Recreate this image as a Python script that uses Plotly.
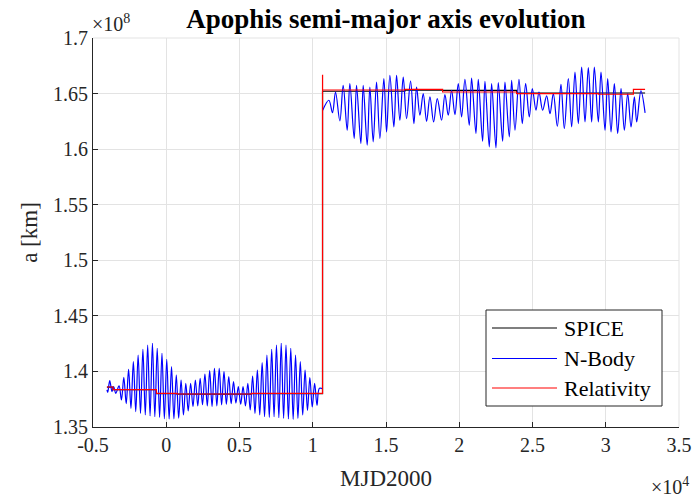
import plotly.graph_objects as go

# ---------------- data (time in MJD2000 days, a in 1e8 km) ----------------
spice_t = [-4050, -3634, -670, 737, 5817, 10668, 16290, 18864, 23918, 32685]
spice_a = [1.3858, 1.3836, 1.3801, 1.3796, 1.3801, 1.6521, 1.6530, 1.6529, 1.6505, 1.6505]

rel_t = [-4050, -3634, -670, 737, 5817, 10668, 10672, 16290, 18864, 23918, 29497, 31888, 32685]
rel_a = [1.3860, 1.3836, 1.3802, 1.3797, 1.3802, 1.6665, 1.6532, 1.6538, 1.6514, 1.6500, 1.6494, 1.6538, 1.6538]

nbody_pre_t = [-4050, -3995, -3858, -3700, -3585, -3448,
               -3222, -3059, -2896, -2733, -2571, -2408, -2245, -2082, -1920, -1757,
               -1594, -1431, -1268, -1105, -943, -780, -617, -454, -292, -129,
               34, 197, 360, 523, 685, 848, 1011, 1174, 1336, 1499,
               1662, 1825, 1988, 2151, 2313, 2476, 2639, 2802, 2964, 3127,
               3290, 3453, 3616, 3779, 3941, 4104, 4267, 4430, 4592, 4755,
               4918, 5081, 5244, 5407, 5569, 5732, 5895, 6058, 6220, 6383,
               6546, 6709, 6872, 7035, 7197, 7360, 7523, 7686, 7848, 8011,
               8174, 8337, 8500, 8663, 8825, 8988, 9151, 9314, 9476, 9639,
               9802, 9965, 10128, 10291, 10453, 10668]
nbody_pre_a = [1.3833, 1.3812, 1.3917, 1.3818, 1.3863, 1.3803,
               1.3870, 1.3743, 1.3947, 1.3710, 1.4019, 1.3668, 1.4088, 1.3638, 1.4148, 1.3623,
               1.4199, 1.3608, 1.4238, 1.3600, 1.4253, 1.3593, 1.4208, 1.3587, 1.4163, 1.3574,
               1.4109, 1.3572, 1.4043, 1.3574, 1.3968, 1.3580, 1.3923, 1.3608, 1.3893, 1.3644,
               1.3893, 1.3683, 1.3923, 1.3689, 1.3938, 1.3700, 1.3977, 1.3690, 1.4007, 1.3685,
               1.4028, 1.3690, 1.4028, 1.3700, 1.3998, 1.3705, 1.3953, 1.3710, 1.3908, 1.3715,
               1.3863, 1.3705, 1.3863, 1.3689, 1.3893, 1.3653, 1.3959, 1.3623, 1.4013, 1.3608,
               1.4079, 1.3593, 1.4148, 1.3587, 1.4199, 1.3593, 1.4238, 1.3584, 1.4253, 1.3578,
               1.4238, 1.3572, 1.4208, 1.3569, 1.4148, 1.3578, 1.4088, 1.3608, 1.4013, 1.3650,
               1.3944, 1.3680, 1.3893, 1.3695, 1.3848, 1.3845]

nbody_post_t = [10680, 11098, 11349, 11554, 11850, 12077, 12351, 12533, 12829, 12988,
                13284, 13444, 13717, 13899, 14127, 14354, 14582, 14855, 15038, 15265,
                15538, 15721, 15948, 16176, 16404, 16677, 16905, 17087, 17315, 17542,
                17770, 18000, 18250, 18500, 18794, 19022, 19249, 19477, 19705, 19932,
                20160, 20388, 20684, 20843, 21139, 21299, 21594, 21754, 22050, 22209,
                22505, 22665, 22961, 23120, 23416, 23576, 23803, 24076, 24304, 24532,
                24782, 24987, 25238, 25443, 25693, 25966, 26194, 26422, 26695, 26944,
                27172, 27445, 27673, 27900, 28128, 28356, 28584, 28811, 29039, 29221,
                29494, 29676, 29950, 30132, 30360, 30587, 30815, 31043, 31270, 31498,
                31726, 31954, 32113, 32400, 32685]
nbody_post_a = [1.6350, 1.6440, 1.6329, 1.6514, 1.6254, 1.6574, 1.6170, 1.6589, 1.6096, 1.6574,
                1.6051, 1.6574, 1.6036, 1.6559, 1.6066, 1.6604, 1.6096, 1.6634, 1.6155, 1.6664,
                1.6200, 1.6664, 1.6260, 1.6649, 1.6275, 1.6613, 1.6230, 1.6559, 1.6305, 1.6500,
                1.6250, 1.6470, 1.6245, 1.6455, 1.6260, 1.6491, 1.6305, 1.6529, 1.6311, 1.6589,
                1.6290, 1.6628, 1.6215, 1.6640, 1.6141, 1.6628, 1.6071, 1.6610, 1.6020, 1.6589,
                1.6011, 1.6598, 1.6071, 1.6604, 1.6111, 1.6619, 1.6170, 1.6628, 1.6230, 1.6589,
                1.6290, 1.6545, 1.6350, 1.6514, 1.6350, 1.6479, 1.6320, 1.6500, 1.6206, 1.6583,
                1.6186, 1.6634, 1.6200, 1.6694, 1.6230, 1.6739, 1.6245, 1.6733, 1.6245, 1.6739,
                1.6245, 1.6694, 1.6170, 1.6634, 1.6155, 1.6589, 1.6141, 1.6545, 1.6170, 1.6500,
                1.6200, 1.6470, 1.6245, 1.6525, 1.6326]

x_tickvals = [-5000, 0, 5000, 10000, 15000, 20000, 25000, 30000, 35000]
x_ticktext = ["-0.5", "0", "0.5", "1", "1.5", "2", "2.5", "3", "3.5"]
y_tickvals = [1.35, 1.40, 1.45, 1.50, 1.55, 1.60, 1.65, 1.70]
y_ticktext = ["1.35", "1.4", "1.45", "1.5", "1.55", "1.6", "1.65", "1.7"]

series_names = ["SPICE", "N-Body", "Relativity"]
series_colors = ["#000000", "#0000ff", "#ff0000"]

FONT = "Liberation Serif"
AX = "#262626"
GRID = "#e3e3e3"

nbody_t = nbody_pre_t + [None] + nbody_post_t
nbody_a = nbody_pre_a + [None] + nbody_post_a

fig = go.Figure()
fig.add_trace(go.Scatter(x=spice_t, y=spice_a, mode="lines", name=series_names[0], showlegend=False,
                         line=dict(color=series_colors[0], width=1.2, shape="hv")))
fig.add_trace(go.Scatter(x=nbody_t, y=nbody_a, mode="lines", name=series_names[1], showlegend=False,
                         connectgaps=False,
                         line=dict(color=series_colors[1], width=1.2, shape="spline", smoothing=1)))
fig.add_trace(go.Scatter(x=rel_t, y=rel_a, mode="lines", name=series_names[2], showlegend=False,
                         line=dict(color=series_colors[2], width=1.2, shape="hv")))

fig.update_layout(
    width=694, height=499,
    margin=dict(l=93, r=15, t=38, b=72, autoexpand=False),
    paper_bgcolor="white", plot_bgcolor="white",
    font=dict(family=FONT, color=AX, size=20),
    title=dict(text="<b>Apophis semi-major axis evolution</b>", x=0.556, xanchor="center",
               y=0.962, yanchor="middle", font=dict(family=FONT, size=27, color="#000000")),
    showlegend=False,
)
fig.update_xaxes(range=[-5000, 35000], tickvals=x_tickvals, ticktext=x_ticktext,
                 showgrid=True, gridcolor=GRID, gridwidth=1, zeroline=False,
                 showline=True, linecolor=AX, linewidth=1, mirror=False, automargin=False,
                 ticks="inside", ticklen=5, tickcolor=AX,
                 tickfont=dict(family=FONT, size=20, color=AX),
                 title=dict(text="MJD2000", font=dict(family=FONT, size=23, color=AX), standoff=14))
fig.update_yaxes(range=[1.35, 1.70], tickvals=y_tickvals, ticktext=y_ticktext,
                 showgrid=True, gridcolor=GRID, gridwidth=1, zeroline=False,
                 showline=True, linecolor=AX, linewidth=1, mirror=False, automargin=False,
                 ticks="inside", ticklen=5, tickcolor=AX,
                 tickfont=dict(family=FONT, size=20, color=AX),
                 title=dict(text="a [km]", font=dict(family=FONT, size=23, color=AX), standoff=8))

# exponent labels
fig.add_annotation(xref="paper", yref="paper", x=0, y=1, xanchor="left", yanchor="bottom",
                   text="×10<sup>8</sup>", showarrow=False, yshift=1, xshift=-3,
                   font=dict(family=FONT, size=20, color=AX))
fig.add_annotation(xref="paper", yref="paper", x=1, y=0, xanchor="right", yanchor="top",
                   text="×10<sup>4</sup>", showarrow=False, yshift=-45, xshift=12,
                   font=dict(family=FONT, size=20, color=AX))
# light top/right frame
fig.add_shape(type="line", xref="paper", yref="paper", x0=0, x1=1, y0=1, y1=1,
              line=dict(color=GRID, width=1), layer="below")
fig.add_shape(type="line", xref="paper", yref="paper", x0=1, x1=1, y0=0, y1=1,
              line=dict(color=GRID, width=1), layer="below")

# legend box (pixel offsets from the plot's lower-right corner)
fig.add_shape(type="rect", xref="paper", yref="paper", xsizemode="pixel", ysizemode="pixel",
              xanchor=1, yanchor=0, x0=-193, x1=-17, y0=21, y1=117,
              line=dict(color=AX, width=1), fillcolor="white", layer="above")
leg_y = [99, 68.5, 39]
for name, col, yy in zip(series_names, series_colors, leg_y):
    fig.add_shape(type="line", xref="paper", yref="paper", xsizemode="pixel", ysizemode="pixel",
                  xanchor=1, yanchor=0, x0=-187, x1=-122, y0=yy, y1=yy,
                  line=dict(color=col, width=1.2), layer="above")
    fig.add_annotation(xref="paper", yref="paper", x=1, y=0, xanchor="left", yanchor="middle",
                       xshift=-117, yshift=yy, text=name, showarrow=False,
                       font=dict(family=FONT, size=22, color="#000000"))

fig.write_html("out.html")
